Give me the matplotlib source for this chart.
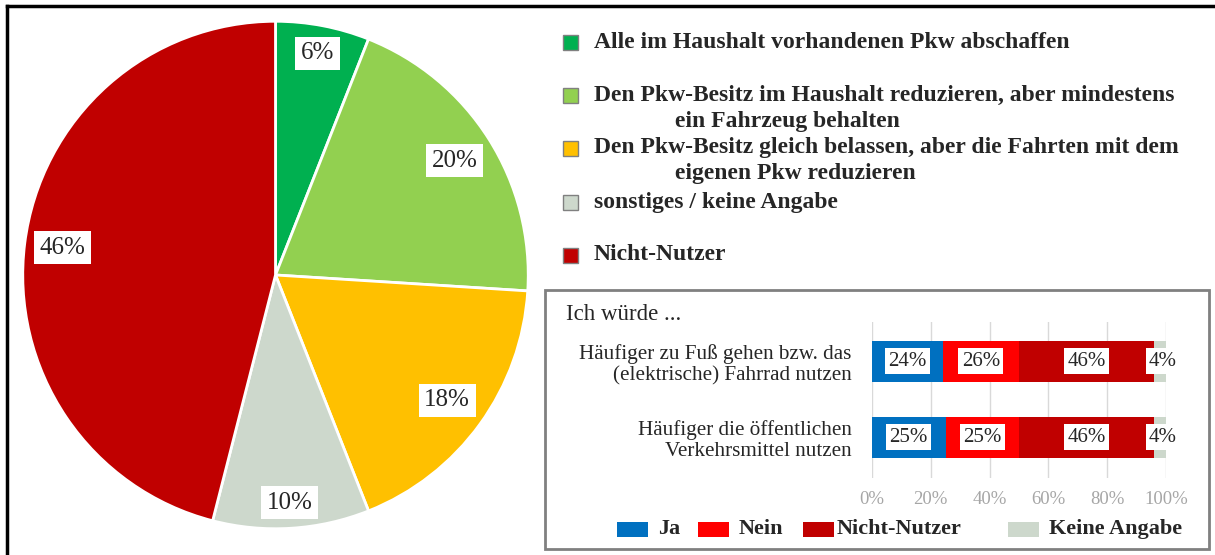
import numpy as np
import matplotlib.pyplot as plt
from matplotlib.patches import Rectangle
from matplotlib.lines import Line2D

plt.rcParams['font.family'] = ['Liberation Serif', 'DejaVu Serif']

# pie data
pie_labels = [["Alle im Haushalt vorhandenen Pkw abschaffen"],
              ["Den Pkw-Besitz im Haushalt reduzieren, aber mindestens", "ein Fahrzeug behalten"],
              ["Den Pkw-Besitz gleich belassen, aber die Fahrten mit dem", "eigenen Pkw reduzieren"],
              ["sonstiges / keine Angabe"],
              ["Nicht-Nutzer"]]
pie_values = [6, 20, 18, 10, 46]
pie_colors = ["#00B050", "#92D050", "#FFC000", "#CDD8CC", "#C00000"]
label_dist = [0.89, 0.84, 0.84, 0.90, 0.85]
legend_y = [42, 95, 148, 202, 255]

# bar data
bar_cats = ["Häufiger zu Fuß gehen bzw. das\n(elektrische) Fahrrad nutzen",
            "Häufiger die öffentlichen\nVerkehrsmittel nutzen"]
bar_series = ["Ja", "Nein", "Nicht-Nutzer", "Keine Angabe"]
bar_values = [[24, 25], [26, 25], [46, 46], [4, 4]]
bar_colors = ["#0070C0", "#FF0000", "#C00000", "#CDD8CC"]

W, H = 1215, 555
fig = plt.figure(figsize=(W / 100, H / 100), dpi=100)

def fx(x):
    return x / W

def fy(y):
    return 1 - y / H

# frame (top and left)
fig.add_artist(Line2D([fx(7), fx(7)], [fy(6), 0], color="black", lw=2.5))
fig.add_artist(Line2D([fx(7), 1], [fy(6), fy(6)], color="black", lw=2.5))

# pie
ax = fig.add_axes([fx(21.5), fy(530), fx(508), 510 / H])
wedges, texts = ax.pie(pie_values, colors=pie_colors, startangle=90,
                       counterclock=False,
                       wedgeprops=dict(edgecolor="white", linewidth=2))
for w, v, r in zip(wedges, pie_values, label_dist):
    a = np.deg2rad((w.theta1 + w.theta2) / 2)
    ax.text(r * np.cos(a), r * np.sin(a), "%d%%" % v, ha="center", va="center",
            fontsize=18, color="#262626",
            bbox=dict(facecolor="white", edgecolor="none", pad=4))
ax.set_xlim(-1.005, 1.005)
ax.set_ylim(-1.005, 1.005)
ax.set_aspect("auto")

# pie legend
for lines, col, y in zip(pie_labels, pie_colors, legend_y):
    fig.add_artist(Rectangle((fx(563), fy(y + 8)), fx(15), 15 / H, facecolor=col,
                             edgecolor="#808080", lw=1))
    fig.text(fx(594), fy(y), lines[0], fontsize=17, fontweight="bold", color="#262626",
             va="center")
    if len(lines) > 1:
        fig.text(fx(675), fy(y + 26), lines[1], fontsize=17, fontweight="bold",
                 color="#262626", va="center")

# inset box
fig.add_artist(Rectangle((fx(545), fy(549)), fx(1209 - 545), (549 - 290) / H,
                         facecolor="white", edgecolor="#808080", lw=2, zorder=-1))
fig.text(fx(566), fy(314), "Ich würde ...", fontsize=16.5, va="center", color="#262626")

# bars
bx = fig.add_axes([fx(872), fy(478), fx(1166 - 872), 156 / H])
bx.patch.set_alpha(0)
ypos = [1, 0]
left = [0, 0]
for name, vals, col in zip(bar_series, bar_values, bar_colors):
    bx.barh(ypos, vals, left=left, height=0.54, color=col, label=name, zorder=2)
    for y, v, l in zip(ypos, vals, left):
        bx.text(l + v / 2 + (1 if v < 5 else 0), y, "%d%%" % v, ha="center", va="center",
                fontsize=15, color="#262626", zorder=3,
                bbox=dict(facecolor="white", edgecolor="none", pad=2.5))
    left = [a + b for a, b in zip(left, vals)]
bx.set_xlim(0, 100)
bx.set_ylim(-0.54, 1.52)
bx.set_xticks(range(0, 101, 20))
bx.set_xticklabels(["%d%%" % t for t in range(0, 101, 20)], fontsize=13.5, color="#A6A6A6")
bx.set_yticks(ypos)
bx.set_yticklabels(bar_cats, fontsize=15.2, color="#262626", linespacing=1.15)
bx.tick_params(length=0, pad=9)
bx.tick_params(axis="y", pad=14.5)
bx.grid(axis="x", color="#D9D9D9", lw=1, zorder=0)
for s in bx.spines.values():
    s.set_visible(False)

# bar legend
leg_x = [617, 698, 803, 1008]
for name, col, x in zip(bar_series, bar_colors, leg_x):
    fig.add_artist(Rectangle((fx(x), fy(537)), fx(31), 15 / H, facecolor=col, edgecolor="none"))
    fig.text(fx(x + 41 if x != 803 else x + 34), fy(529), name, fontsize=16,
             fontweight="bold", color="#262626", va="center")

fig.savefig("out.png", dpi=100)
